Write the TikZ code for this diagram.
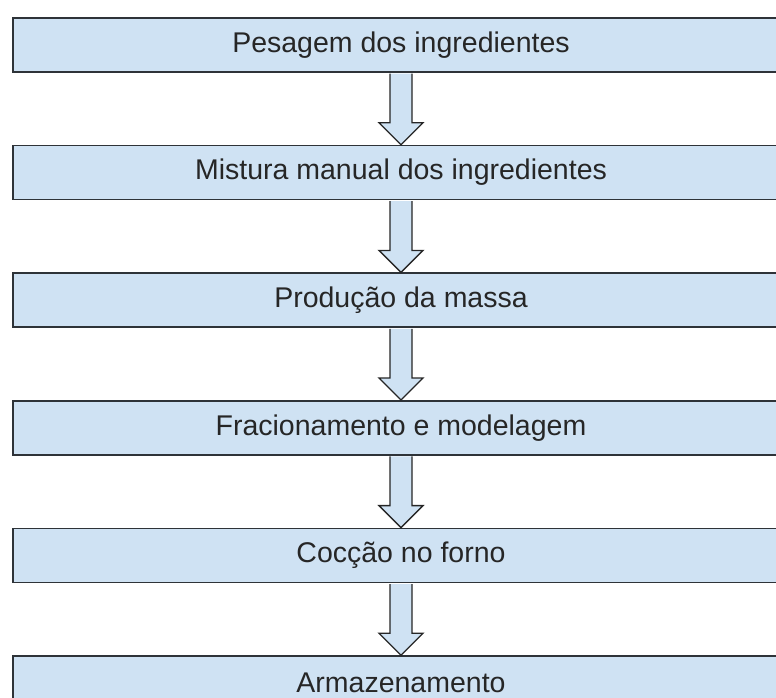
\documentclass[tikz,border=0pt]{standalone}
\usepackage{fontspec}
\setmainfont{Liberation Sans}
\usepackage{xcolor}
\definecolor{StepBlue}{HTML}{CFE2F3}
\definecolor{EdgeGray}{HTML}{2E3338}
\usepackage{tikz}
\usetikzlibrary{positioning,calc}

\begin{document}
\begin{tikzpicture}[x=1pt,y=1pt,
  stepbox/.style={draw=EdgeGray,fill=StepBlue,line width=1.6pt,minimum width=776pt,minimum height=54pt,inner sep=0pt,font=\fontsize{28.5}{33}\selectfont,text=black!85},
  blockarr/.style={draw=black!85,fill=StepBlue,line width=1.3pt,line join=miter}
]
  \useasboundingbox (0,0) rectangle (776,-698);
  \node[stepbox] (peso) at (401,-45) {Pesagem dos ingredientes};
  \node[stepbox,below=72pt of peso] (mist) {Mistura manual dos ingredientes};
  \node[stepbox,below=72pt of mist] (massa) {Produção da massa};
  \node[stepbox,below=72pt of massa] (frac) {Fracionamento e modelagem};
  \node[stepbox,below=72pt of frac] (forno) {Cocção no forno};
  \node[stepbox,below=72pt of forno] (armaz) {Armazenamento};
  % block arrows between the steps
  \foreach \a/\b in {peso/mist,mist/massa,massa/frac,frac/forno,forno/armaz}
    \draw[blockarr] ($(\a.south)+(-11,-0.8)$) -- ($(\b.north)+(-11,22)$) -- ($(\b.north)+(-22,22)$)
      -- (\b.north) -- ($(\b.north)+(22,22)$) -- ($(\b.north)+(11,22)$) -- ($(\a.south)+(11,-0.8)$);
\end{tikzpicture}
\end{document}
